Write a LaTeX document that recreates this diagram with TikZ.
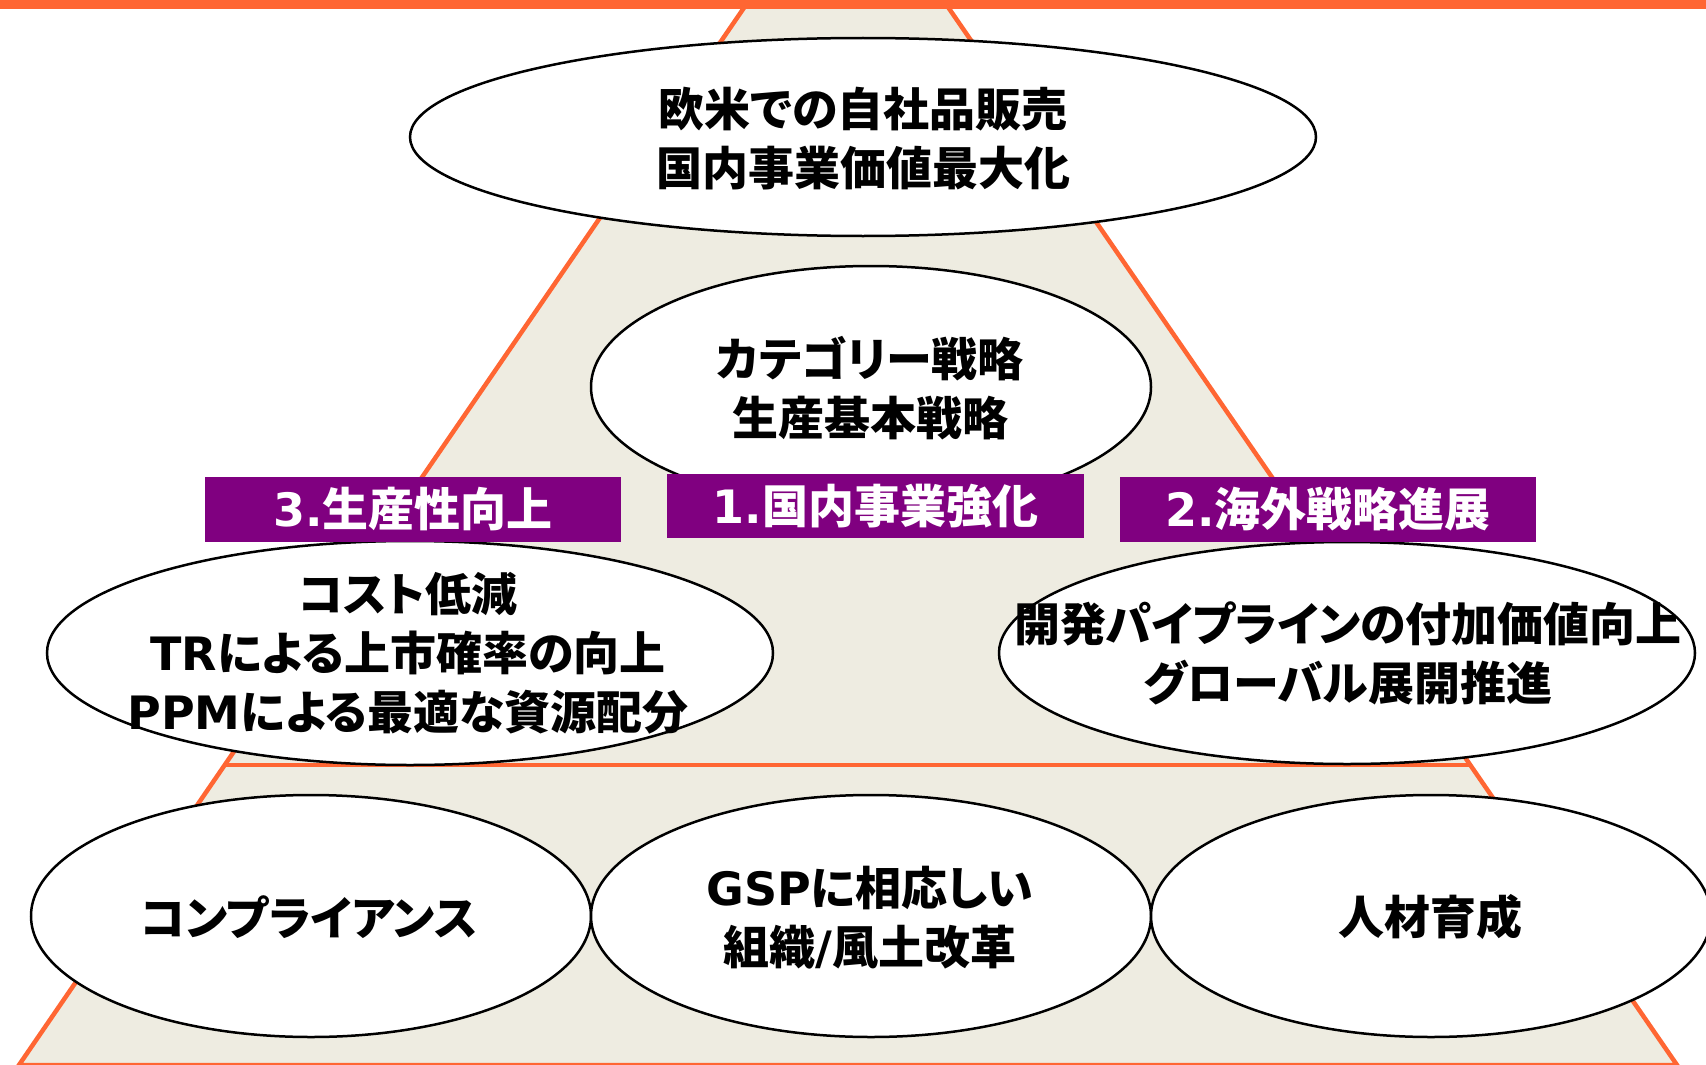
\documentclass[tikz,border=0pt]{standalone}
\usepackage{fontspec}
\newfontfamily\cjk{Noto Sans CJK JP}[RawFeature=+palt]
\newfontfamily\latf{DejaVu Sans}
\usetikzlibrary{shapes.geometric}
\definecolor{pyrfill}{HTML}{EEECE1}
\definecolor{pyrline}{HTML}{FF6633}
\definecolor{lblfill}{HTML}{800080}
\newcommand\LT[1]{{\latf\bfseries #1}}
\begin{document}
\begin{tikzpicture}[x=1pt,y=-1pt,
  ell/.style={ellipse, draw=black, line width=2.5pt, fill=white, inner sep=0pt},
  txt/.style={font=\cjk\bfseries\fontsize{46}{59}\selectfont, align=center, inner sep=0pt},
  lbl/.style={rectangle, fill=lblfill, inner sep=0pt, text=white,
    minimum width=416pt, minimum height=65pt,
    font=\cjk\bfseries\fontsize{46}{59}\selectfont},
  edge/.style={draw=pyrline, line width=4.5pt}]
\useasboundingbox (0,0) rectangle (1706,1065);
\coordinate (apex) at (846,-141);
\coordinate (bl) at (19,1065);
\coordinate (br) at (1677,1065);
\coordinate (ml) at (225,765);
\coordinate (mr) at (1470,765);
\begin{scope}
\clip (0,0) rectangle (1706,1065);
\fill[pyrfill] (apex) -- (bl) -- (br) -- cycle;
\draw[edge, line join=miter] (apex) -- (bl) -- (br) -- cycle;
\draw[edge] (ml) -- (mr);
\end{scope}
\fill[pyrline] (0,0) rectangle (1706,9);
% ellipses
\node[ell, minimum width=906pt, minimum height=198pt] (e1) at (863,137) {};
\node[ell, minimum width=560pt, minimum height=242pt] (e2) at (871,387) {};
\node[ell, minimum width=726pt, minimum height=224pt] (e3) at (410,653) {};
\node[ell, minimum width=696pt, minimum height=222pt] (e4) at (1347,653) {};
\node[ell, minimum width=560pt, minimum height=242pt] (e5) at (311,916) {};
\node[ell, minimum width=560pt, minimum height=242pt] (e6) at (871,916) {};
\node[ell, minimum width=560pt, minimum height=242pt] (e7) at (1431,916) {};
% texts
\node[txt] (t1) at (863,139) {欧米での自社品販売\\国内事業価値最大化};
\node[txt] (t2) at (870,388) {カテゴリー戦略\\生産基本戦略};
\node[txt] (t3) at (408,653) {コスト低減\\\LT{TR}による上市確率の向上\\\LT{PPM}による最適な資源配分};
\node[txt] (t4) at (1348,653) {開発パイプラインの付加価値向上\\グローバル展開推進};
\node[txt] (t5) at (309,917) {コンプライアンス};
\node[txt] (t6) at (870,918) {\LT{GSP}に相応しい\\組織\LT{/}風土改革};
\node[txt] (t7) at (1430,917) {人材育成};
% labels
\node[lbl] (l3) at (413,509.5) {\LT{3.}生産性向上};
\node[lbl, minimum width=417pt, minimum height=64pt] (l1) at (875.5,506) {\LT{1.}国内事業強化};
\node[lbl] (l2) at (1328,509.5) {\LT{2.}海外戦略進展};
\end{tikzpicture}
\end{document}
